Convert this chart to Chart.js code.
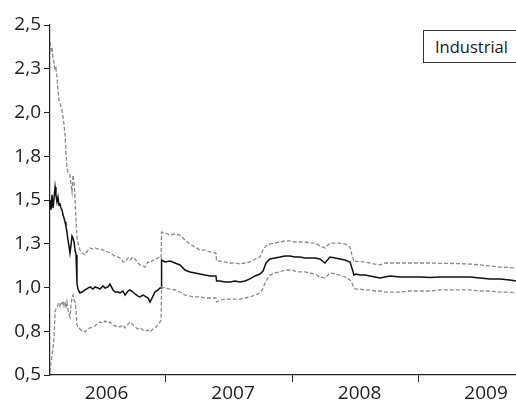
<!DOCTYPE html>
<html>
<head>
<meta charset="utf-8">
<script src="https://cdn.jsdelivr.net/npm/chart.js@4.4.1/dist/chart.umd.min.js"></script>
<style>
  html, body { margin: 0; padding: 0; background: #fff; }
  #wrap { position: relative; width: 516px; height: 403px; overflow: hidden; }
  #legend { position: absolute; left: 423px; top: 30px; width: 120px; height: 33px;
    border: 1px solid #333; box-sizing: border-box; font-family: "Open Sans", sans-serif;
    font-size: 16.5px; color: #1a1a1a; line-height: 31px; padding-left: 11px; background: #fff; }
</style>
</head>
<body>
<div id="wrap">
  <canvas id="c" width="516" height="403"></canvas>
  <div id="legend">Industrial</div>
</div>
<script>
// Dates (decimal years)
const dates = [
  2006.083, 2006.091, 2006.099, 2006.107, 2006.115, 2006.123, 2006.130, 2006.138, 2006.146, 2006.154,
  2006.162, 2006.170, 2006.178, 2006.186, 2006.194, 2006.202, 2006.209, 2006.217, 2006.225, 2006.233,
  2006.241, 2006.249, 2006.257, 2006.265, 2006.273, 2006.281, 2006.289, 2006.296, 2006.304, 2006.320,
  2006.336, 2006.360, 2006.383, 2006.399, 2006.423, 2006.439, 2006.462, 2006.478, 2006.502, 2006.518,
  2006.542, 2006.557, 2006.581, 2006.597, 2006.621, 2006.636, 2006.660, 2006.676, 2006.700, 2006.715,
  2006.739, 2006.755, 2006.779, 2006.794, 2006.818, 2006.834, 2006.858, 2006.874, 2006.897, 2006.913,
  2006.937, 2006.953, 2006.961, 2006.965, 2006.992, 2007.032, 2007.071, 2007.111, 2007.150, 2007.190,
  2007.229, 2007.269, 2007.308, 2007.348, 2007.395, 2007.400, 2007.427, 2007.466, 2007.506, 2007.545,
  2007.585, 2007.625, 2007.664, 2007.704, 2007.743, 2007.767, 2007.791, 2007.822, 2007.862, 2007.901,
  2007.941, 2007.980, 2008.020, 2008.059, 2008.099, 2008.138, 2008.178, 2008.217, 2008.257, 2008.296,
  2008.336, 2008.375, 2008.415, 2008.455, 2008.470, 2008.486, 2008.502, 2008.534, 2008.573, 2008.613,
  2008.652, 2008.692, 2008.731, 2008.771, 2008.850, 2008.929, 2009.008, 2009.087, 2009.166, 2009.245,
  2009.324, 2009.403, 2009.482, 2009.561, 2009.640, 2009.719, 2009.767
];

// Estimate (black solid)
const estimate = [
  1.500, 1.443, 1.529, 1.454, 1.510, 1.574, 1.529, 1.489, 1.517, 1.472,
  1.477, 1.454, 1.443, 1.414, 1.397, 1.374, 1.351, 1.317, 1.271, 1.237,
  1.197, 1.243, 1.294, 1.283, 1.260, 1.214, 1.186, 1.026, 0.991, 0.969,
  0.974, 0.986, 0.997, 1.003, 0.991, 1.003, 0.997, 0.991, 1.009, 0.997,
  1.003, 1.020, 0.986, 0.974, 0.974, 0.969, 0.980, 0.957, 0.980, 0.986,
  0.974, 0.963, 0.951, 0.946, 0.957, 0.951, 0.940, 0.917, 0.951, 0.974,
  0.986, 0.997, 0.997, 1.157, 1.146, 1.151, 1.140, 1.129, 1.100, 1.089,
  1.083, 1.077, 1.071, 1.066, 1.066, 1.037, 1.037, 1.031, 1.031, 1.037,
  1.031, 1.037, 1.049, 1.066, 1.077, 1.094, 1.140, 1.163, 1.169, 1.174,
  1.180, 1.180, 1.174, 1.174, 1.169, 1.169, 1.169, 1.163, 1.140, 1.174,
  1.169, 1.163, 1.157, 1.146, 1.111, 1.071, 1.077, 1.071, 1.071, 1.066,
  1.060, 1.054, 1.060, 1.066, 1.060, 1.060, 1.060, 1.057, 1.060, 1.060,
  1.060, 1.060, 1.054, 1.049, 1.049, 1.043, 1.037
];

// Upper band (grey dashed)
const upper = [
  2.403, 2.357, 2.374, 2.311, 2.283, 2.243, 2.254, 2.203, 2.129, 2.071,
  2.054, 2.031, 2.014, 1.974, 1.929, 1.871, 1.774, 1.683, 1.660, 1.649,
  1.643, 1.586, 1.546, 1.643, 1.603, 1.500, 1.386, 1.289, 1.254, 1.214,
  1.197, 1.186, 1.214, 1.226, 1.220, 1.226, 1.220, 1.220, 1.214, 1.209,
  1.203, 1.197, 1.186, 1.180, 1.174, 1.169, 1.146, 1.146, 1.169, 1.157,
  1.174, 1.163, 1.140, 1.129, 1.123, 1.117, 1.146, 1.140, 1.157, 1.157,
  1.169, 1.174, 1.169, 1.317, 1.311, 1.300, 1.306, 1.300, 1.271, 1.249,
  1.231, 1.214, 1.214, 1.203, 1.197, 1.151, 1.151, 1.146, 1.140, 1.140,
  1.134, 1.140, 1.146, 1.163, 1.174, 1.214, 1.237, 1.249, 1.254, 1.260,
  1.266, 1.266, 1.260, 1.260, 1.260, 1.254, 1.254, 1.237, 1.226, 1.254,
  1.254, 1.254, 1.249, 1.231, 1.186, 1.146, 1.151, 1.146, 1.146, 1.140,
  1.134, 1.129, 1.140, 1.140, 1.140, 1.140, 1.140, 1.140, 1.138, 1.138,
  1.136, 1.134, 1.129, 1.123, 1.117, 1.114, 1.111
];

// Lower band (grey dashed)
const lower = [
  0.517, 0.574, 0.614, 0.654, 0.711, 0.860, 0.877, 0.889, 0.900, 0.911,
  0.894, 0.917, 0.906, 0.923, 0.894, 0.911, 0.883, 0.917, 0.871, 0.849,
  0.831, 0.900, 0.940, 0.957, 0.929, 0.917, 0.871, 0.786, 0.774, 0.763,
  0.751, 0.746, 0.763, 0.769, 0.774, 0.780, 0.797, 0.803, 0.797, 0.809,
  0.797, 0.803, 0.786, 0.780, 0.780, 0.774, 0.786, 0.769, 0.791, 0.803,
  0.786, 0.774, 0.763, 0.769, 0.757, 0.751, 0.757, 0.746, 0.763, 0.769,
  0.786, 0.803, 0.814, 1.003, 0.997, 0.991, 0.986, 0.974, 0.957, 0.951,
  0.946, 0.946, 0.940, 0.940, 0.940, 0.917, 0.929, 0.934, 0.934, 0.934,
  0.934, 0.940, 0.946, 0.957, 0.969, 0.997, 1.037, 1.071, 1.083, 1.089,
  1.100, 1.100, 1.094, 1.089, 1.089, 1.083, 1.077, 1.060, 1.054, 1.083,
  1.077, 1.071, 1.060, 1.043, 1.026, 0.997, 0.991, 0.991, 0.986, 0.986,
  0.980, 0.980, 0.974, 0.974, 0.974, 0.980, 0.980, 0.980, 0.986, 0.986,
  0.986, 0.986, 0.980, 0.980, 0.974, 0.974, 0.969
];

// Axis ticks
const yTickValues = [0.5, 0.75, 1.0, 1.25, 1.5, 1.75, 2.0, 2.25, 2.5];
const yTickLabels = ['0,5', '0,8', '1,0', '1,3', '1,5', '1,8', '2,0', '2,3', '2,5'];
const yearLabels = ['2006', '2007', '2008', '2009'];
const yearLabelPos = [2006.53, 2007.53, 2008.53, 2009.53];
const yearBoundaries = [2007, 2008, 2009];

const toPts = arr => arr.map((v, i) => ({ x: dates[i], y: v }));

const xTicks = [...yearLabelPos, ...yearBoundaries].sort((a, b) => a - b);
const isBoundary = v => yearBoundaries.some(b => Math.abs(b - v) < 1e-6);

const FONT = { family: '"Open Sans", sans-serif', size: 19 };

new Chart(document.getElementById('c'), {
  type: 'line',
  data: {
    datasets: [
      { data: toPts(upper), borderColor: '#8a8a8a', borderWidth: 1.3, borderDash: [4, 2], pointRadius: 0, tension: 0 },
      { data: toPts(lower), borderColor: '#8a8a8a', borderWidth: 1.3, borderDash: [4, 2], pointRadius: 0, tension: 0 },
      { data: toPts(estimate), borderColor: '#111', borderWidth: 1.5, pointRadius: 0, tension: 0 }
    ]
  },
  options: {
    responsive: false,
    animation: false,
    layout: { padding: { top: 25, right: 0, left: 0, bottom: 0 } },
    plugins: { legend: { display: false }, tooltip: { enabled: false } },
    scales: {
      x: {
        type: 'linear',
        min: dates[0],
        max: dates[dates.length - 1],
        afterBuildTicks: s => { s.ticks = xTicks.map(v => ({ value: v })); },
        afterFit: s => { s.height = 28; },
        border: { display: true, color: '#222', width: 1.2 },
        grid: {
          drawOnChartArea: false, drawTicks: true, tickLength: 7,
          tickColor: ctx => (ctx.tick && isBoundary(ctx.tick.value)) ? '#222' : 'rgba(0,0,0,0)'
        },
        ticks: {
          autoSkip: false, maxRotation: 0, padding: 0, color: '#222', font: FONT,
          callback: v => { const i = yearLabelPos.findIndex(p => Math.abs(p - v) < 1e-6); return i >= 0 ? yearLabels[i] : ''; }
        }
      },
      y: {
        min: 0.5, max: 2.5,
        afterBuildTicks: s => { s.ticks = yTickValues.map(v => ({ value: v })); },
        afterFit: s => { s.width = 50; },
        border: { display: true, color: '#222', width: 1.2 },
        grid: { drawOnChartArea: false, drawTicks: true, tickLength: 6, tickColor: '#222' },
        ticks: {
          autoSkip: false, padding: 3, color: '#222', font: FONT,
          callback: v => { const i = yTickValues.findIndex(p => Math.abs(p - v) < 1e-6); return i >= 0 ? yTickLabels[i] : ''; }
        }
      }
    }
  }
});
</script>
</body>
</html>
